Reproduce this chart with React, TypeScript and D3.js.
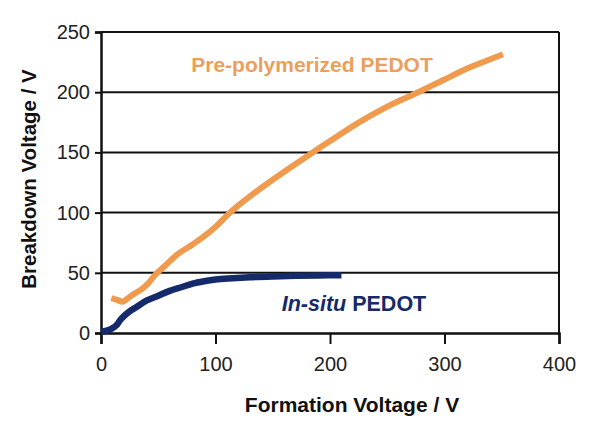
import React, { useEffect, useRef } from "react";
import * as d3 from "d3";

// Formation voltage (V) vs. breakdown voltage (V)
const prePolymerized: [number, number][] = [
  [9, 29], [14, 27.5], [19, 26], [23, 28.5], [28, 32], [35, 36], [41, 41],
  [47, 48], [55, 55], [67, 65.5], [80, 73.5], [91, 81], [101, 89], [111, 98.5],
  [120, 106], [130, 113.5], [145, 124], [160, 134], [185, 150], [200, 159.5],
  [229, 177], [250, 188], [277, 200], [300, 210.5], [316, 218], [335, 225.5], [351, 231.5],
];

const inSitu: [number, number][] = [
  [0, 1], [5, 2], [10, 4], [14, 7], [17, 11], [20, 14], [25, 18], [30, 21],
  [40, 27], [50, 31], [60, 35], [70, 38], [80, 41], [90, 43], [100, 44.5],
  [115, 45.5], [130, 46.3], [150, 47], [170, 47.5], [190, 47.8], [210, 48],
];

const xTicks = [0, 100, 200, 300, 400];
const yTicks = [0, 50, 100, 150, 200, 250];

const ORANGE = "#F09A4E";
const ORANGE_TEXT = "#EC9E5C";
const NAVY = "#152A6A";

const W = 600, H = 432;
const margin = { top: 32, right: 41, bottom: 99, left: 101 };

const App = () => {
  const svgRef = useRef<SVGSVGElement>(null);

  useEffect(() => {
    const svg = d3.select(svgRef.current);
    svg.selectAll("*").remove();

    const x = d3.scaleLinear().domain([0, 400]).range([margin.left, W - margin.right]);
    const y = d3.scaleLinear().domain([0, 250]).range([H - margin.bottom, margin.top]);

    const font = "Arial, 'Liberation Sans', Helvetica, sans-serif";

    // horizontal gridlines
    svg.append("g")
      .selectAll("line")
      .data(yTicks.slice(1))
      .enter()
      .append("line")
      .attr("x1", x(0)).attr("x2", x(400))
      .attr("y1", d => y(d)).attr("y2", d => y(d))
      .attr("stroke", "#111").attr("stroke-width", 2);

    // right border
    svg.append("line")
      .attr("x1", x(400)).attr("x2", x(400))
      .attr("y1", y(250)).attr("y2", y(0))
      .attr("stroke", "#111").attr("stroke-width", 2);

    // axes
    const xAxis = d3.axisBottom(x).tickValues(xTicks).tickSize(11).tickPadding(13);
    const gx = svg.append("g")
      .attr("transform", `translate(0,${y(0)})`)
      .call(xAxis);
    gx.select(".domain").attr("stroke", "#111").attr("stroke-width", 2.5);
    gx.selectAll(".tick line").attr("stroke", "#111").attr("stroke-width", 2);
    gx.selectAll(".tick text")
      .attr("font-family", font).attr("font-size", 20).attr("fill", "#222");

    const yAxis = d3.axisLeft(y).tickValues(yTicks).tickSize(6).tickPadding(5);
    const gy = svg.append("g")
      .attr("transform", `translate(${x(0)},0)`)
      .call(yAxis);
    gy.select(".domain").attr("stroke", "#111").attr("stroke-width", 2.5);
    gy.selectAll(".tick line").attr("stroke", "#111").attr("stroke-width", 2);
    gy.selectAll(".tick text")
      .attr("font-family", font).attr("font-size", 20).attr("fill", "#222");

    // curves
    const line = d3.line<[number, number]>()
      .x(d => x(d[0]))
      .y(d => y(d[1]))
      .curve(d3.curveMonotoneX);

    svg.append("path")
      .datum(prePolymerized)
      .attr("d", line)
      .attr("fill", "none")
      .attr("stroke", ORANGE)
      .attr("stroke-width", 6);

    svg.append("path")
      .datum(inSitu)
      .attr("d", line)
      .attr("fill", "none")
      .attr("stroke", NAVY)
      .attr("stroke-width", 6.5);

    // series labels
    svg.append("text")
      .attr("x", 312).attr("y", 72)
      .attr("text-anchor", "middle")
      .attr("font-family", font).attr("font-weight", "bold").attr("font-size", 21)
      .attr("fill", ORANGE_TEXT)
      .text("Pre-polymerized PEDOT");

    const lbl = svg.append("text")
      .attr("x", 354).attr("y", 311)
      .attr("text-anchor", "middle")
      .attr("font-family", font).attr("font-weight", "bold").attr("font-size", 21.5)
      .attr("fill", NAVY);
    lbl.append("tspan").attr("font-style", "italic").text("In-situ");
    lbl.append("tspan").text(" PEDOT");

    // axis titles
    svg.append("text")
      .attr("x", 352).attr("y", 412)
      .attr("text-anchor", "middle")
      .attr("font-family", font).attr("font-weight", "bold").attr("font-size", 21)
      .attr("fill", "#111")
      .text("Formation Voltage / V");

    svg.append("text")
      .attr("transform", `translate(36,179) rotate(-90)`)
      .attr("text-anchor", "middle")
      .attr("font-family", font).attr("font-weight", "bold").attr("font-size", 20.5)
      .attr("fill", "#111")
      .text("Breakdown Voltage / V");
  }, []);

  return (
    <svg
      ref={svgRef}
      width={W}
      height={H}
      style={{ position: "absolute", left: 0, top: 0, background: "#fff", display: "block" }}
    />
  );
};

export default App;
